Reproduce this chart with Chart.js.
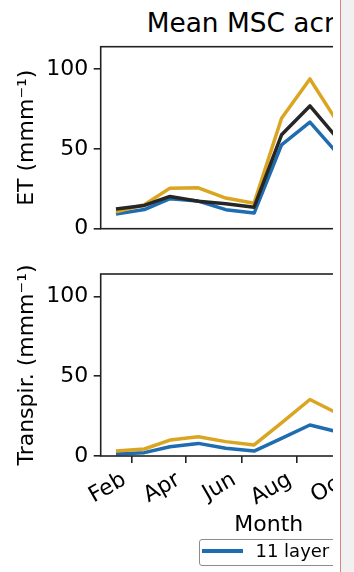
<!DOCTYPE html>
<html>
<head>
<meta charset="utf-8">
<script src="https://cdn.jsdelivr.net/npm/chart.js@4.4.0/dist/chart.umd.min.js"></script>
<style>
  html, body { margin: 0; padding: 0; background: #fff; }
  body { width: 354px; height: 572px; position: relative; overflow: hidden; font-family: 'DejaVu Sans', sans-serif; }
  #figure { position: absolute; left: 0; top: 0; width: 333px; height: 572px; overflow: hidden; }
  #figure canvas { position: absolute; left: 0; }
  #title { position: absolute; left: 146.7px; top: 10px; font-size: 26.4px; line-height: 1; white-space: nowrap; color: #000; }
  #legend { position: absolute; left: 199.3px; top: 539px; height: 25px; border: 1.5px solid #8c8c8c; border-radius: 3px;
            display: flex; align-items: flex-start; padding: 0 0 0 2.2px; white-space: nowrap; background: #fff;
            font-size: 18px; line-height: 21px; color: #000; }
  .entry { display: flex; align-items: flex-start; margin-right: 16px; }
  .swatch { width: 41px; height: 3.5px; margin-right: 12px; margin-top: 9.4px; }
  .label { margin-top: -0.5px; }
  #edge { position: absolute; left: 340px; top: 0; width: 1px; height: 572px; background: #e08080; }
  #side { position: absolute; left: 341px; top: 0; width: 13px; height: 572px; background: #f1f1f1; }
</style>
</head>
<body>
<div id="figure">
  <div id="title">Mean MSC across sites</div>
  <canvas id="et" width="460" height="262" style="top:0"></canvas>
  <canvas id="tr" width="460" height="332" style="top:240px"></canvas>
  <div id="legend"></div>
</div>
<div id="edge"></div>
<div id="side"></div>
<script>
// monthly mean seasonal cycle, one value per month (plotted mid-month)
const monthDates = ['2001-01-15', '2001-02-15', '2001-03-15', '2001-04-15', '2001-05-15', '2001-06-15',
                    '2001-07-15', '2001-08-15', '2001-09-15', '2001-10-15', '2001-11-15', '2001-12-15'];
const tickDates = ['2001-02-01', '2001-04-01', '2001-06-01', '2001-08-01', '2001-10-01', '2001-12-01'];
const tickLabels = ['Feb', 'Apr', 'Jun', 'Aug', 'Oct', 'Dec'];
const yTicks = [0, 50, 100];
const yMax = 114;

const seriesNames = ['11 layer model', '3 layer model', 'Observed'];
const seriesColors = ['#1f6cb0', '#daa520', '#262626'];

const etLayers11 = [9.2, 12.0, 18.8, 17.3, 11.9, 9.8, 52.5, 66.7, 46.5, 28.0, 14.0, 9.0];
const etLayers3 = [10.6, 15.0, 25.4, 25.6, 19.2, 16.0, 69.2, 93.8, 66.0, 38.0, 18.0, 11.0];
const etObserved = [12.3, 14.6, 20.2, 17.2, 15.6, 13.5, 58.8, 76.9, 56.0, 33.0, 16.0, 12.0];

const trLayers11 = [1.2, 2.1, 5.8, 7.9, 4.8, 3.1, 11.0, 19.4, 15.0, 8.0, 3.0, 1.5];
const trLayers3 = [3.1, 4.4, 10.0, 12.0, 9.0, 6.9, 20.8, 35.4, 26.5, 14.0, 6.0, 3.0];

const FONT = 'DejaVu Sans';
const dayOf = s => (Date.parse(s) - Date.parse('2001-01-01')) / 86400000;
const days = monthDates.map(dayOf);
const tickDays = tickDates.map(dayOf);
const span = days[days.length - 1] - days[0];
const xMin = days[0] - 0.05 * span;
const xMax = days[days.length - 1] + 0.05 * span;

const points = vals => vals.map((v, i) => ({x: days[i], y: v}));

function line(idx, vals) {
  return {
    label: seriesNames[idx],
    data: points(vals),
    borderColor: seriesColors[idx],
    borderWidth: 3.5,
    pointRadius: 0,
    tension: 0,
    fill: false,
    borderJoinStyle: 'round'
  };
}

// box around the plot area, like the axes spines
const frame = {
  id: 'frame',
  afterDraw(chart) {
    const {ctx, chartArea: a} = chart;
    ctx.save();
    ctx.strokeStyle = '#222';
    ctx.lineWidth = 1.6;
    ctx.strokeRect(a.left, a.top, a.right - a.left, a.bottom - a.top);
    ctx.restore();
  }
};

const tickGrid = {drawOnChartArea: false, tickLength: 7, lineWidth: 1.6, color: '#222'};

function yAxis(title) {
  return {
    min: 0,
    max: yMax,
    afterBuildTicks: s => { s.ticks = yTicks.map(v => ({value: v})); },
    afterFit: s => { s.width = 100.7; },
    grid: tickGrid,
    border: {display: false},
    ticks: {color: '#000', padding: 5.5, font: {family: FONT, size: 22}},
    title: {display: true, text: title, color: '#000', font: {family: FONT, size: 22}, padding: {top: 13.6, bottom: 0}}
  };
}

const xBase = {
  type: 'linear',
  min: xMin,
  max: xMax
};

const common = {
  responsive: false,
  animation: false,
  events: [],
  plugins: {legend: {display: false}, tooltip: {enabled: false}}
};

new Chart(document.getElementById('et'), {
  type: 'line',
  data: {datasets: [line(2, etObserved), line(1, etLayers3), line(0, etLayers11)]},
  options: {
    ...common,
    layout: {padding: {top: 46.7, bottom: 33.3, left: 0, right: 23.2}},
    scales: {
      x: {...xBase, display: false},
      y: yAxis('ET (mmm\u207B\u00B9)')
    }
  },
  plugins: [frame]
});

new Chart(document.getElementById('tr'), {
  type: 'line',
  data: {datasets: [line(1, trLayers3), line(0, trLayers11)]},
  options: {
    ...common,
    layout: {padding: {top: 34, bottom: 0, left: 0, right: 23.2}},
    scales: {
      x: {
        ...xBase,
        afterBuildTicks: s => { s.ticks = tickDays.map(v => ({value: v})); },
        afterFit: s => { s.height = 116; },
        grid: tickGrid,
        border: {display: false},
        ticks: {
          autoSkip: false,
          minRotation: 30,
          maxRotation: 30,
          padding: 4,
          labelOffset: -7,
          color: '#000',
          font: {family: FONT, size: 22},
          callback: (v, i) => tickLabels[i]
        },
        title: {display: true, text: 'Month', color: '#000', font: {family: FONT, size: 22}, padding: {top: 0, bottom: 33.8}}
      },
      y: yAxis('Transpir. (mmm\u207B\u00B9)')
    }
  },
  plugins: [frame]
});

// figure legend below the panels
const legend = document.getElementById('legend');
seriesNames.forEach((name, i) => {
  const entry = document.createElement('div');
  entry.className = 'entry';
  const sw = document.createElement('span');
  sw.className = 'swatch';
  sw.style.background = seriesColors[i];
  const txt = document.createElement('span');
  txt.className = 'label';
  txt.textContent = name;
  entry.appendChild(sw);
  entry.appendChild(txt);
  legend.appendChild(entry);
});
</script>
</body>
</html>
